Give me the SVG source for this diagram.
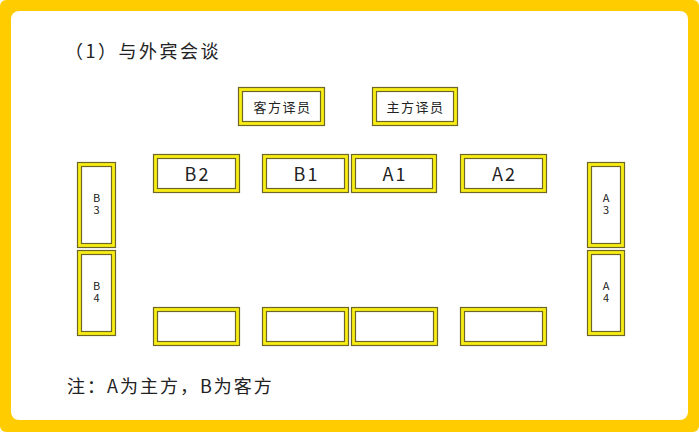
<svg xmlns="http://www.w3.org/2000/svg" width="699" height="432" viewBox="0 0 699 432">
<style>
.o{fill:#f8ee14;stroke:#6e6626;stroke-width:1.2}
.i{fill:#ffffff;stroke:#6e6626;stroke-width:1.2}
.t{font-family:"Noto Sans CJK SC","Liberation Sans",sans-serif;fill:#222;text-anchor:middle}
.lab{font-size:18px;letter-spacing:2px}
.tr{font-size:13px;letter-spacing:1.5px}
.v{font-size:11px}
</style>
<rect x="0" y="0" width="699" height="432" rx="6" fill="#ffcc00"/>
<rect x="11" y="11" width="677" height="409" rx="8" fill="#ffffff"/>
<text class="t" x="65" y="58" style="text-anchor:start;font-size:18px;letter-spacing:2.5px">（1）与外宾会谈</text>
<g id="interp-B"><rect class="o" x="238.5" y="87.5" width="86" height="38"/><rect class="i" x="242.5" y="91.5" width="78" height="30"/><text class="t tr" x="282.5" y="111.5">客方译员</text></g>
<g id="interp-A"><rect class="o" x="372.5" y="87.5" width="85" height="38"/><rect class="i" x="376.5" y="91.5" width="77" height="30"/><text class="t tr" x="415.5" y="111.5">主方译员</text></g>
<g id="B2"><rect class="o" x="153.5" y="154.5" width="86" height="38"/><rect class="i" x="157.5" y="158.5" width="78" height="30"/><text class="t lab" x="197.5" y="180.5">B2</text></g>
<g id="B1"><rect class="o" x="262.5" y="154.5" width="86" height="38"/><rect class="i" x="266.5" y="158.5" width="78" height="30"/><text class="t lab" x="306.5" y="180.5">B1</text></g>
<g id="A1"><rect class="o" x="351.5" y="154.5" width="85" height="38"/><rect class="i" x="355.5" y="158.5" width="77" height="30"/><text class="t lab" x="395" y="180.5">A1</text></g>
<g id="A2"><rect class="o" x="460.5" y="154.5" width="86" height="38"/><rect class="i" x="464.5" y="158.5" width="78" height="30"/><text class="t lab" x="504.5" y="180.5">A2</text></g>
<g id="B3"><rect class="o" x="77.5" y="162.5" width="38" height="85"/><rect class="i" x="81.5" y="166.5" width="30" height="77"/><text class="t v" x="96.5" y="202">B<tspan x="96.5" dy="12">3</tspan></text></g>
<g id="B4"><rect class="o" x="77.5" y="250.5" width="38" height="85"/><rect class="i" x="81.5" y="254.5" width="30" height="77"/><text class="t v" x="96.5" y="290">B<tspan x="96.5" dy="12">4</tspan></text></g>
<g id="A3"><rect class="o" x="587.5" y="162.5" width="37" height="85"/><rect class="i" x="591.5" y="166.5" width="29" height="77"/><text class="t v" x="606" y="202">A<tspan x="606" dy="12">3</tspan></text></g>
<g id="A4"><rect class="o" x="587.5" y="250.5" width="37" height="85"/><rect class="i" x="591.5" y="254.5" width="29" height="77"/><text class="t v" x="606" y="290">A<tspan x="606" dy="12">4</tspan></text></g>
<g id="S1"><rect class="o" x="153.5" y="307.5" width="86" height="38"/><rect class="i" x="157.5" y="311.5" width="78" height="30"/></g>
<g id="S2"><rect class="o" x="262.5" y="307.5" width="86" height="38"/><rect class="i" x="266.5" y="311.5" width="78" height="30"/></g>
<g id="S3"><rect class="o" x="351.5" y="307.5" width="86" height="38"/><rect class="i" x="355.5" y="311.5" width="78" height="30"/></g>
<g id="S4"><rect class="o" x="460.5" y="307.5" width="86" height="38"/><rect class="i" x="464.5" y="311.5" width="78" height="30"/></g>
<g id="connectors"></g>
<text class="t" x="67" y="393" style="text-anchor:start;font-size:18px;letter-spacing:2px">注：A为主方，B为客方</text>
</svg>
